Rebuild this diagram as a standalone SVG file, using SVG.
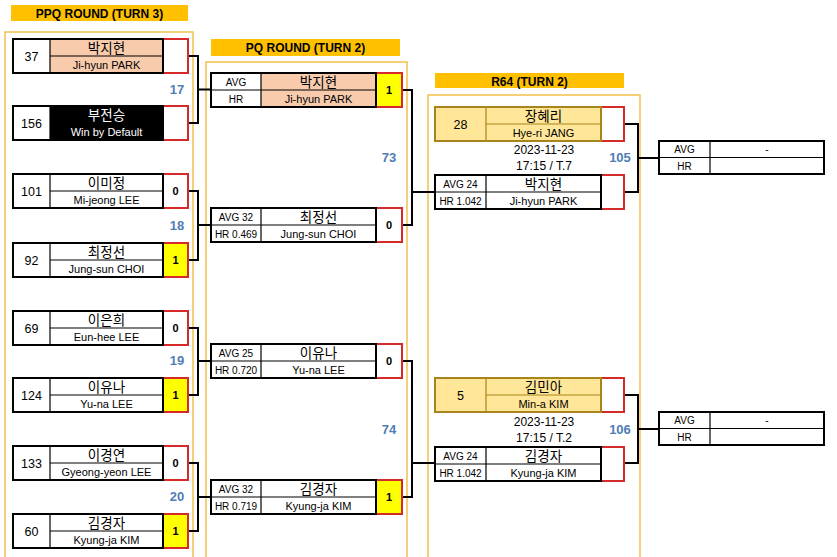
<svg xmlns="http://www.w3.org/2000/svg" width="837" height="557" viewBox="0 0 837 557">
<style>
text{font-family:"Liberation Sans","Noto Sans CJK KR",sans-serif;text-anchor:middle;fill:#000}
.title{font-size:12px;font-weight:bold}
.bar{fill:#FFC000}
.cont{fill:none;stroke:#F2C14E;stroke-width:1.5}
.box{fill:none;stroke:#000;stroke-width:2}
.ln{stroke:#000;stroke-width:1.2}
.sc{stroke:#D42A2A;stroke-width:2}
.ko{font-size:13.5px}
.en{font-size:11px}
.dt{font-size:12px}
.sm{font-size:10px}
.seed{font-size:12.5px}
.num{font-size:11px;font-weight:bold}
.blue{font-size:13px;font-weight:bold;fill:#4F7DB5}
.conn{fill:none;stroke:#000;stroke-width:2}
.peach{fill:#F8CBAD}
.gold{fill:#FFE699}
</style>
<rect x="0" y="0" width="837" height="557" fill="#fff"/>
<g id="titles">
<rect class="bar" x="11" y="5" width="177" height="16"/>
<text class="title" x="99.5" y="17.5">PPQ ROUND (TURN 3)</text>
<rect class="bar" x="211" y="39" width="189" height="17"/>
<text class="title" x="305.5" y="52">PQ ROUND (TURN 2)</text>
<rect class="bar" x="435" y="73" width="189" height="15"/>
<text class="title" x="529.5" y="85.5">R64 (TURN 2)</text>
</g>
<g id="containers">
<rect class="cont" x="5" y="32" width="188" height="540"/>
<rect class="cont" x="206" y="62" width="201" height="510"/>
<rect class="cont" x="428" y="95" width="212" height="480"/>
</g>
<g id="connectors">
<path class="conn" d="M188 56H198V123H188M198 89.5H211"/>
<path class="conn" d="M188 191H198V260H188M198 225H211"/>
<path class="conn" d="M188 328H198V395H188M198 361H211"/>
<path class="conn" d="M188 463H198V531H188M198 497H211"/>
<path class="conn" d="M402 90H412V225H402M412 192H435"/>
<path class="conn" d="M402 361H412V497H402M412 463H435"/>
<path class="conn" d="M624 124H638V192H624M638 158H659"/>
<path class="conn" d="M624 395H638V463H624M638 429H659"/>
</g>
<g id="ppq1" transform="translate(13,39)">
<rect class="sc" x="150" y="0" width="25" height="34" fill="#fff"/>
<rect class="peach" x="37" y="0" width="113" height="34"/>
<rect class="box" x="0" y="0" width="150" height="34"/>
<line class="ln" x1="37" y1="0" x2="37" y2="34"/><line class="ln" x1="37" y1="17" x2="150" y2="17"/>
<text class="seed" x="18.5" y="22">37</text>
<text class="ko" x="93.5" y="14">박지현</text>
<text class="en" x="93.5" y="30">Ji-hyun PARK</text>
</g>
<g id="ppq2" transform="translate(13,106)">
<rect class="sc" x="150" y="0" width="25" height="34" fill="#fff"/>
<rect x="37" y="0" width="113" height="34" fill="#000"/>
<rect class="box" x="0" y="0" width="150" height="34"/>
<line class="ln" x1="37" y1="0" x2="37" y2="34"/>
<text class="seed" x="18.5" y="22">156</text>
<text class="ko" x="93.5" y="14" style="fill:#fff">부전승</text>
<text class="en" x="93.5" y="30" style="fill:#fff">Win by Default</text>
</g>
<g id="ppq3" transform="translate(13,174)">
<rect class="sc" x="150" y="0" width="25" height="34" fill="#fff"/>
<rect class="box" x="0" y="0" width="150" height="34"/>
<line class="ln" x1="37" y1="0" x2="37" y2="34"/><line class="ln" x1="37" y1="17" x2="150" y2="17"/>
<text class="seed" x="18.5" y="22">101</text>
<text class="ko" x="93.5" y="14">이미정</text>
<text class="en" x="93.5" y="30">Mi-jeong LEE</text>
<text class="num" x="162.5" y="21">0</text>
</g>
<g id="ppq4" transform="translate(13,243)">
<rect class="sc" x="150" y="0" width="25" height="34" fill="#FFFF00"/>
<rect class="box" x="0" y="0" width="150" height="34"/>
<line class="ln" x1="37" y1="0" x2="37" y2="34"/><line class="ln" x1="37" y1="17" x2="150" y2="17"/>
<text class="seed" x="18.5" y="22">92</text>
<text class="ko" x="93.5" y="14">최정선</text>
<text class="en" x="93.5" y="30">Jung-sun CHOI</text>
<text class="num" x="162.5" y="21">1</text>
</g>
<g id="ppq5" transform="translate(13,311)">
<rect class="sc" x="150" y="0" width="25" height="34" fill="#fff"/>
<rect class="box" x="0" y="0" width="150" height="34"/>
<line class="ln" x1="37" y1="0" x2="37" y2="34"/><line class="ln" x1="37" y1="17" x2="150" y2="17"/>
<text class="seed" x="18.5" y="22">69</text>
<text class="ko" x="93.5" y="14">이은희</text>
<text class="en" x="93.5" y="30">Eun-hee LEE</text>
<text class="num" x="162.5" y="21">0</text>
</g>
<g id="ppq6" transform="translate(13,378)">
<rect class="sc" x="150" y="0" width="25" height="34" fill="#FFFF00"/>
<rect class="box" x="0" y="0" width="150" height="34"/>
<line class="ln" x1="37" y1="0" x2="37" y2="34"/><line class="ln" x1="37" y1="17" x2="150" y2="17"/>
<text class="seed" x="18.5" y="22">124</text>
<text class="ko" x="93.5" y="14">이유나</text>
<text class="en" x="93.5" y="30">Yu-na LEE</text>
<text class="num" x="162.5" y="21">1</text>
</g>
<g id="ppq7" transform="translate(13,446)">
<rect class="sc" x="150" y="0" width="25" height="34" fill="#fff"/>
<rect class="box" x="0" y="0" width="150" height="34"/>
<line class="ln" x1="37" y1="0" x2="37" y2="34"/><line class="ln" x1="37" y1="17" x2="150" y2="17"/>
<text class="seed" x="18.5" y="22">133</text>
<text class="ko" x="93.5" y="14">이경연</text>
<text class="en" x="93.5" y="30">Gyeong-yeon LEE</text>
<text class="num" x="162.5" y="21">0</text>
</g>
<g id="ppq8" transform="translate(13,514)">
<rect class="sc" x="150" y="0" width="25" height="34" fill="#FFFF00"/>
<rect class="box" x="0" y="0" width="150" height="34"/>
<line class="ln" x1="37" y1="0" x2="37" y2="34"/><line class="ln" x1="37" y1="17" x2="150" y2="17"/>
<text class="seed" x="18.5" y="22">60</text>
<text class="ko" x="93.5" y="14">김경자</text>
<text class="en" x="93.5" y="30">Kyung-ja KIM</text>
<text class="num" x="162.5" y="21">1</text>
</g>
<g id="match-labels">
<text class="blue" x="177" y="94">17</text>
<text class="blue" x="177" y="230">18</text>
<text class="blue" x="177" y="365">19</text>
<text class="blue" x="177" y="501">20</text>
<text class="blue" x="389" y="162">73</text>
<text class="blue" x="389" y="434">74</text>
<text class="blue" x="620" y="162">105</text>
<text class="blue" x="620" y="434">106</text>
</g>
<g id="pq1" transform="translate(211,73)">
<rect class="sc" x="165" y="0" width="26" height="34" fill="#FFFF00"/>
<rect class="peach" x="50" y="0" width="115" height="34"/>
<rect class="box" x="0" y="0" width="165" height="34"/>
<line class="ln" x1="50" y1="0" x2="50" y2="34"/><line class="ln" x1="0" y1="17" x2="165" y2="17"/>
<text class="sm" x="25" y="12.5">AVG</text>
<text class="sm" x="25" y="29.5">HR</text>
<text class="ko" x="107.5" y="14">박지현</text>
<text class="en" x="107.5" y="30">Ji-hyun PARK</text>
<text class="num" x="178" y="21">1</text>
</g>
<g id="pq2" transform="translate(211,208)">
<rect class="sc" x="165" y="0" width="26" height="34" fill="#fff"/>
<rect class="box" x="0" y="0" width="165" height="34"/>
<line class="ln" x1="50" y1="0" x2="50" y2="34"/><line class="ln" x1="0" y1="17" x2="165" y2="17"/>
<text class="sm" x="25" y="12.5">AVG 32</text>
<text class="sm" x="25" y="29.5">HR 0.469</text>
<text class="ko" x="107.5" y="14">최정선</text>
<text class="en" x="107.5" y="30">Jung-sun CHOI</text>
<text class="num" x="178" y="21">0</text>
</g>
<g id="pq3" transform="translate(211,344)">
<rect class="sc" x="165" y="0" width="26" height="34" fill="#fff"/>
<rect class="box" x="0" y="0" width="165" height="34"/>
<line class="ln" x1="50" y1="0" x2="50" y2="34"/><line class="ln" x1="0" y1="17" x2="165" y2="17"/>
<text class="sm" x="25" y="12.5">AVG 25</text>
<text class="sm" x="25" y="29.5">HR 0.720</text>
<text class="ko" x="107.5" y="14">이유나</text>
<text class="en" x="107.5" y="30">Yu-na LEE</text>
<text class="num" x="178" y="21">0</text>
</g>
<g id="pq4" transform="translate(211,480)">
<rect class="sc" x="165" y="0" width="26" height="34" fill="#FFFF00"/>
<rect class="box" x="0" y="0" width="165" height="34"/>
<line class="ln" x1="50" y1="0" x2="50" y2="34"/><line class="ln" x1="0" y1="17" x2="165" y2="17"/>
<text class="sm" x="25" y="12.5">AVG 32</text>
<text class="sm" x="25" y="29.5">HR 0.719</text>
<text class="ko" x="107.5" y="14">김경자</text>
<text class="en" x="107.5" y="30">Kyung-ja KIM</text>
<text class="num" x="178" y="21">1</text>
</g>
<g id="r64a" transform="translate(435,107)">
<rect class="sc" x="166" y="0" width="23" height="34" fill="#fff"/>
<rect class="gold" x="0" y="0" width="166" height="34"/>
<rect x="0" y="0" width="166" height="34" fill="none" stroke="#A8841C" stroke-width="2"/>
<line x1="51" y1="0" x2="51" y2="34" stroke="#A8841C" stroke-width="1.2"/><line x1="51" y1="17" x2="166" y2="17" stroke="#A8841C" stroke-width="1.2"/>
<text class="seed" x="25.5" y="22">28</text>
<text class="ko" x="108.5" y="14">장혜리</text>
<text class="en" x="108.5" y="30">Hye-ri JANG</text>
</g>
<g id="r64a-info">
<text class="dt" x="544" y="154">2023-11-23</text>
<text class="dt" x="544" y="170">17:15 / T.7</text>
</g>
<g id="r64b" transform="translate(435,175)">
<rect class="sc" x="166" y="0" width="23" height="34" fill="#fff"/>
<rect class="box" x="0" y="0" width="166" height="34"/>
<line class="ln" x1="51" y1="0" x2="51" y2="34"/><line class="ln" x1="0" y1="17" x2="166" y2="17"/>
<text class="sm" x="25.5" y="12.5">AVG 24</text>
<text class="sm" x="25.5" y="29.5">HR 1.042</text>
<text class="ko" x="108.5" y="14">박지현</text>
<text class="en" x="108.5" y="30">Ji-hyun PARK</text>
</g>
<g id="r64c" transform="translate(435,378)">
<rect class="sc" x="166" y="0" width="23" height="34" fill="#fff"/>
<rect class="gold" x="0" y="0" width="166" height="34"/>
<rect x="0" y="0" width="166" height="34" fill="none" stroke="#A8841C" stroke-width="2"/>
<line x1="51" y1="0" x2="51" y2="34" stroke="#A8841C" stroke-width="1.2"/><line x1="51" y1="17" x2="166" y2="17" stroke="#A8841C" stroke-width="1.2"/>
<text class="seed" x="25.5" y="22">5</text>
<text class="ko" x="108.5" y="14">김민아</text>
<text class="en" x="108.5" y="30">Min-a KIM</text>
</g>
<g id="r64c-info">
<text class="dt" x="544" y="426">2023-11-23</text>
<text class="dt" x="544" y="442">17:15 / T.2</text>
</g>
<g id="r64d" transform="translate(435,447)">
<rect class="sc" x="166" y="0" width="23" height="34" fill="#fff"/>
<rect class="box" x="0" y="0" width="166" height="34"/>
<line class="ln" x1="51" y1="0" x2="51" y2="34"/><line class="ln" x1="0" y1="17" x2="166" y2="17"/>
<text class="sm" x="25.5" y="12.5">AVG 24</text>
<text class="sm" x="25.5" y="29.5">HR 1.042</text>
<text class="ko" x="108.5" y="14">김경자</text>
<text class="en" x="108.5" y="30">Kyung-ja KIM</text>
</g>
<g id="next1" transform="translate(659,141)">
<rect class="box" x="0" y="0" width="165" height="33" fill="#fff"/>
<line class="ln" x1="51" y1="0" x2="51" y2="33"/><line class="ln" x1="0" y1="16.5" x2="165" y2="16.5"/>
<text class="sm" x="25.5" y="12">AVG</text>
<text class="sm" x="25.5" y="29">HR</text>
<text class="sm" x="108" y="12">-</text>
</g>
<g id="next2" transform="translate(659,412)">
<rect class="box" x="0" y="0" width="165" height="33" fill="#fff"/>
<line class="ln" x1="51" y1="0" x2="51" y2="33"/><line class="ln" x1="0" y1="16.5" x2="165" y2="16.5"/>
<text class="sm" x="25.5" y="12">AVG</text>
<text class="sm" x="25.5" y="29">HR</text>
<text class="sm" x="108" y="12">-</text>
</g>
</svg>
